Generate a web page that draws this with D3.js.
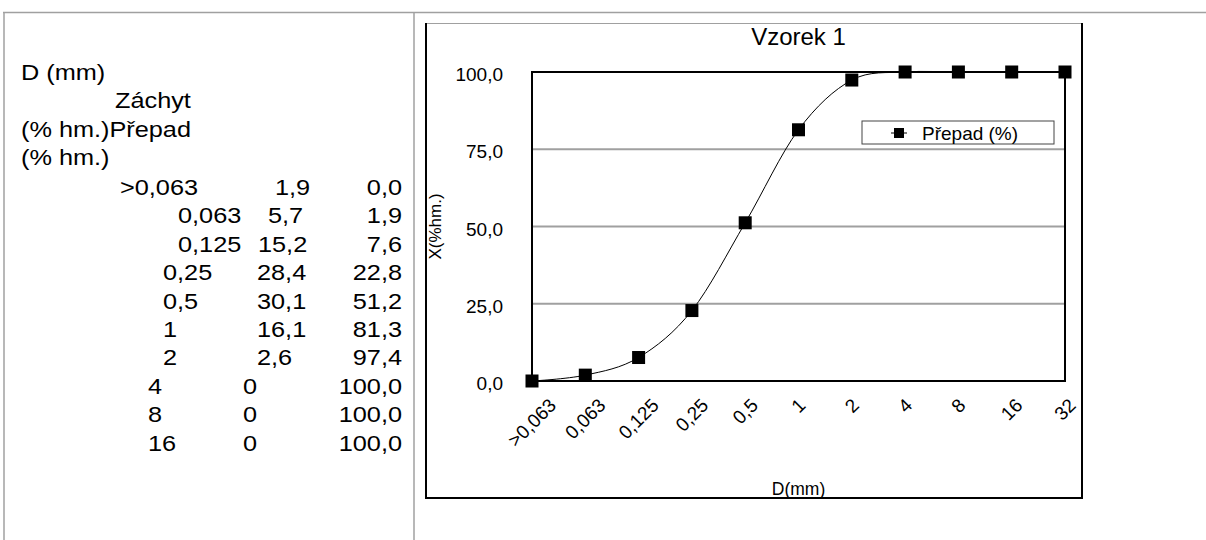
<!DOCTYPE html>
<html>
<head>
<meta charset="utf-8">
<script src="https://cdn.jsdelivr.net/npm/d3@7"></script>
<style>
    body { margin: 0; background: #fff; }
    svg { display: block; font-family: "Liberation Sans", Arial, sans-serif; }
</style>
</head>
<body>
<div id="chart"></div>
<script>
// sieve data - sample 1
const sizes = [">0,063", "0,063", "0,125", "0,25", "0,5", "1", "2", "4", "8", "16", "32"];
const prepad = [0, 1.9, 7.6, 22.8, 51.2, 81.3, 97.4, 100, 100, 100, 100];
const zachyt = ["1,9", "5,7", "15,2", "28,4", "30,1", "16,1", "2,6", "0", "0", "0"];
const yTicks = [0, 25, 50, 75, 100];
const headerLines = ["D (mm)", "Záchyt", "(% hm.)Přepad", "(% hm.)"];

// table layout (left x of first two columns for every row)
const colDx = [120, 178, 178, 163, 163, 163, 163, 148, 148, 148];
const colZx = [275, 268, 258, 257, 257, 257, 257, 243, 243, 243];
const headerX = [21, 115, 21, 21];

const W = 1206, H = 540;
const comma = d => d.toFixed(1).replace(".", ",");

const svg = d3.select("#chart").append("svg")
    .attr("width", W)
    .attr("height", H);

// page cells
const grey = "#a0a0a0";
svg.append("line").attr("x1", 3).attr("x2", W).attr("y1", 12.5).attr("y2", 12.5)
    .attr("stroke", grey).attr("stroke-width", 1.5);
svg.append("line").attr("x1", 4).attr("x2", 4).attr("y1", 12).attr("y2", H)
    .attr("stroke", grey).attr("stroke-width", 1.5);
svg.append("line").attr("x1", 414).attr("x2", 414).attr("y1", 12).attr("y2", H)
    .attr("stroke", grey).attr("stroke-width", 1.5);

// ---- table on the left ----
const table = svg.append("g").attr("font-size", "22px").attr("fill", "#000");
const stretch = " scale(1.15,1)";
const rowH = 28.4;

headerLines.forEach(function(t, i) {
    table.append("text")
        .attr("transform", "translate(" + headerX[i] + "," + (80 + i * rowH) + ")" + stretch)
        .text(t);
});

zachyt.forEach(function(z, i) {
    const y = 195 + i * rowH;
    table.append("text")
        .attr("transform", "translate(" + colDx[i] + "," + y + ")" + stretch)
        .text(sizes[i]);
    table.append("text")
        .attr("transform", "translate(" + colZx[i] + "," + y + ")" + stretch)
        .text(z);
    table.append("text")
        .attr("transform", "translate(402," + y + ")" + stretch)
        .attr("text-anchor", "end")
        .text(comma(prepad[i]));
});

// ---- chart ----
// chart area frame
svg.append("line").attr("x1", 426).attr("x2", 1082).attr("y1", 23.5).attr("y2", 23.5)
    .attr("stroke", grey).attr("stroke-width", 1);
svg.append("path")
    .attr("d", "M426,23V498H1082V23")
    .attr("fill", "none").attr("stroke", "#000").attr("stroke-width", 2);

const plot = { left: 532, right: 1065, top: 72, bottom: 381 };

const x = d3.scalePoint()
    .domain(sizes)
    .range([plot.left, plot.right])
    .padding(0);

const y = d3.scaleLinear()
    .domain([0, 100])
    .range([plot.bottom, plot.top]);

// gridlines
svg.append("g")
    .selectAll("line")
    .data(yTicks.filter(d => d > 0 && d < 100))
    .join("line")
    .attr("x1", plot.left).attr("x2", plot.right)
    .attr("y1", d => y(d)).attr("y2", d => y(d))
    .attr("stroke", grey).attr("stroke-width", 2);

// plot border
svg.append("rect")
    .attr("x", plot.left).attr("y", plot.top)
    .attr("width", plot.right - plot.left)
    .attr("height", plot.bottom - plot.top)
    .attr("fill", "none").attr("stroke", "#000").attr("stroke-width", 2);

// y axis labels
const yAxis = svg.append("g")
    .attr("transform", "translate(" + plot.left + ",0)")
    .call(d3.axisLeft(y).tickValues(yTicks).tickFormat(comma).tickSize(0).tickPadding(29));
yAxis.select(".domain").remove();
yAxis.selectAll("text")
    .attr("font-size", "19px")
    .attr("font-family", "Liberation Sans, Arial, sans-serif")
    .attr("fill", "#000")
    .attr("dy", "0.45em");

// x axis labels, rotated -45, box centred on the category
const xl = svg.append("g").attr("font-size", "19px").attr("fill", "#000");
xl.selectAll("text")
    .data(sizes)
    .join("text")
    .attr("text-anchor", "middle")
    .attr("dominant-baseline", "central")
    .text(d => d)
    .attr("transform", function(d) {
        const len = this.getComputedTextLength();
        const half = (len + 14) * Math.SQRT1_2 / 2;
        return "translate(" + x(d) + "," + (plot.bottom + 16 + half) + ") rotate(-45)";
    });

// smoothed line
const line = d3.line()
    .x((d, i) => x(sizes[i]))
    .y(d => y(d))
    .curve(d3.curveCardinal.tension(0));

svg.append("path")
    .datum(prepad)
    .attr("d", line)
    .attr("fill", "none")
    .attr("stroke", "#000")
    .attr("stroke-width", 1);

// markers
const m = 13;
svg.append("g")
    .selectAll("rect")
    .data(prepad)
    .join("rect")
    .attr("x", (d, i) => x(sizes[i]) - m / 2)
    .attr("y", d => y(d) - m / 2)
    .attr("width", m)
    .attr("height", m)
    .attr("fill", "#000");

// title
svg.append("text")
    .attr("x", (plot.left + plot.right) / 2)
    .attr("y", 45)
    .attr("text-anchor", "middle")
    .attr("font-size", "24px")
    .text("Vzorek 1");

// axis titles
svg.append("text")
    .attr("x", (plot.left + plot.right) / 2)
    .attr("y", 495)
    .attr("text-anchor", "middle")
    .attr("font-size", "17.5px")
    .text("D(mm)");

svg.append("text")
    .attr("transform", "translate(441," + (plot.top + plot.bottom) / 2 + ") rotate(-90)")
    .attr("text-anchor", "middle")
    .attr("font-size", "17px")
    .text("X(%hm.)");

// legend
const lg = svg.append("g").attr("transform", "translate(862,121)");
lg.append("rect")
    .attr("width", 192).attr("height", 23)
    .attr("fill", "#fff").attr("stroke", "#444").attr("stroke-width", 1);
lg.append("line")
    .attr("x1", 29).attr("x2", 45).attr("y1", 12).attr("y2", 12)
    .attr("stroke", "#000").attr("stroke-width", 1);
lg.append("rect")
    .attr("x", 32).attr("y", 7).attr("width", 10).attr("height", 10)
    .attr("fill", "#000");
lg.append("text")
    .attr("x", 60).attr("y", 19)
    .attr("font-size", "19px")
    .text("Přepad (%)");
</script>
</body>
</html>
